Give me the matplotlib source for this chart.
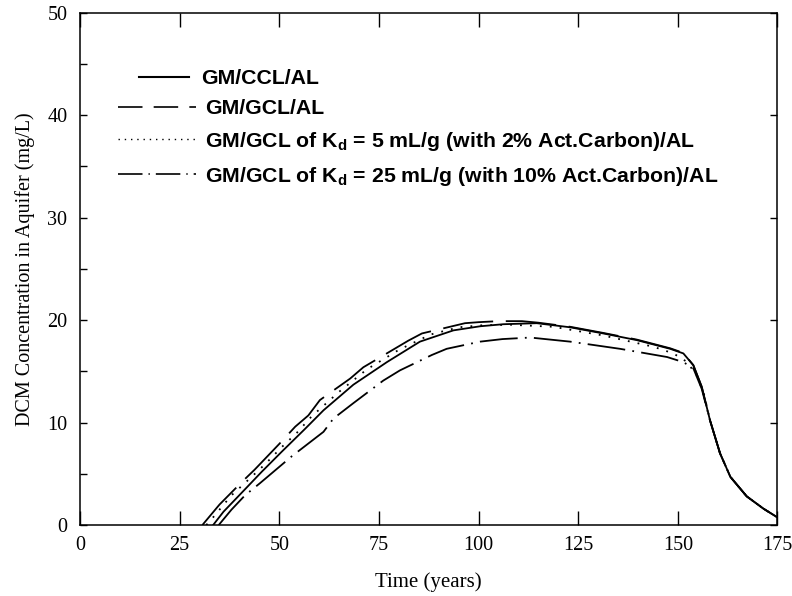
import matplotlib
matplotlib.use("Agg")
import matplotlib.pyplot as plt
from matplotlib.lines import Line2D
from matplotlib.ticker import MultipleLocator

# values
ccl_t = [33.4, 36, 39.7, 45.6, 50.6, 56.5, 61.1, 68.6, 77, 85.3, 93.7, 100.4, 106.2, 114.6,
         123, 131.3, 139.7, 148.1, 151.4, 153.9, 156, 158.1, 160.6, 163.2, 167.3, 171.5, 175]
ccl_c = [0, 1.3, 2.8, 5.2, 7.15, 9.4, 11.2, 13.7, 15.9, 17.9, 19.0, 19.4, 19.6, 19.7,
         19.3, 18.7, 18.05, 17.2, 16.75, 15.6, 13.5, 10.2, 7.0, 4.7, 2.8, 1.6, 0.75]

gcl_t = [30.7, 35, 40.6, 43.8, 50.2, 54, 57.3, 60.2, 67.8, 71.1, 82.4, 85.8, 96.6, 100, 105,
         110.9, 115, 123, 131.3, 139.7, 148.1, 151.4, 153.9, 156, 158.1, 160.6, 163.2, 167.3, 171.5, 175]
gcl_c = [0, 2.0, 4.2, 5.4, 8.0, 9.6, 10.7, 12.2, 14.3, 15.4, 18.0, 18.7, 19.7, 19.8, 19.9,
         19.9, 19.75, 19.35, 18.75, 18.1, 17.25, 16.8, 15.6, 13.5, 10.2, 7.0, 4.7, 2.8, 1.6, 0.75]

kd5_t = [31.7, 33.5, 38, 42.9, 46.6, 50.6, 54.4, 58.1, 65, 72, 80, 88, 95, 101, 108, 118.8,
         131.3, 143.9, 148.9, 152, 154.5, 156.5, 158.1, 160.6, 163.2, 167.3, 171.5, 175]
kd5_c = [0, 0.8, 2.9, 4.65, 6.0, 7.6, 9.0, 10.6, 13.0, 15.2, 17.1, 18.6, 19.3, 19.5, 19.55, 19.35,
         18.5, 17.4, 16.75, 16.0, 14.8, 12.9, 10.2, 7.0, 4.7, 2.8, 1.6, 0.75]

kd25_t = [34.8, 38, 41.4, 45.2, 53.1, 61.1, 63.6, 68.6, 76.1, 80.3, 88.3, 92, 100.4, 106, 113,
          123, 135.5, 147.3, 151.4, 153.9, 156, 158.1, 160.6, 163.2, 167.3, 171.5, 175]
kd25_c = [0, 1.5, 2.9, 4.1, 6.7, 9.1, 10.4, 11.9, 14.1, 15.1, 16.6, 17.2, 17.9, 18.15, 18.3,
          17.9, 17.2, 16.4, 15.9, 15.3, 13.3, 10.2, 7.0, 4.7, 2.8, 1.6, 0.75]

labels = ["GM/CCL/AL",
          "GM/GCL/AL",
          "GM/GCL of K$_\\mathbf{d}$ = 5 mL/g (with 2% Act.Carbon)/AL",
          "GM/GCL of K$_\\mathbf{d}$ = 25 mL/g (with 10% Act.Carbon)/AL"]

plt.rcParams['font.family'] = 'Liberation Serif'
plt.rcParams['mathtext.fontset'] = 'custom'
plt.rcParams['mathtext.rm'] = 'Liberation Sans:bold'
plt.rcParams['mathtext.bf'] = 'Liberation Sans:bold'
plt.rcParams['mathtext.it'] = 'Liberation Sans:bold'

fig = plt.figure(figsize=(7.92, 5.96), dpi=100)
ax = fig.add_axes([0.101, 0.119, 0.8806, 0.8597])

lw = 1.3
ax.plot(ccl_t, ccl_c, color='black', lw=lw, ls='-')
ax.plot(gcl_t, gcl_c, color='black', lw=lw, ls=(0, (28, 7)))
ax.plot(kd5_t, kd5_c, color='black', lw=lw, ls=(0, (1, 4.5)))
ax.plot(kd25_t, kd25_c, color='black', lw=lw, ls=(0, (21, 4, 1, 4)))

ax.set_xlim(0, 175)
ax.set_ylim(0, 50)
ax.xaxis.set_major_locator(MultipleLocator(25))
ax.yaxis.set_major_locator(MultipleLocator(10))
ax.yaxis.set_minor_locator(MultipleLocator(5))
ax.tick_params(axis='x', which='major', direction='in', length=10, width=1, top=True,
               labelsize=14.5, pad=8)
ax.tick_params(axis='y', which='major', direction='in', length=5, width=1, right=True,
               labelsize=14.5, pad=9)
ax.tick_params(axis='y', which='minor', direction='in', length=5, width=1, right=False)
for s in ax.spines.values():
    s.set_linewidth(1.1)

ax.set_xlabel('Time (years)', fontsize=15, labelpad=12)
ax.set_ylabel('DCM Concentration in Aquifer (mg/L)', fontsize=14.5, labelpad=9)

# legend: first entry set apart like the original
font = {'family': 'Liberation Sans', 'weight': 'bold', 'size': 15.3}
h1 = [Line2D([], [], color='black', lw=1.5, ls='-')]
leg1 = ax.legend(h1, labels[:1], loc='upper left', bbox_to_anchor=(0.0853, 0.8895),
                 frameon=False, prop=font, handlelength=2.35, handletextpad=0.57,
                 borderpad=0, borderaxespad=0)
ax.add_artist(leg1)
h2 = [Line2D([], [], color='black', lw=1.2, ls=(0, (14.7, 6.7))),
      Line2D([], [], color='black', lw=1.0, ls=(0, (1, 3.5))),
      Line2D([], [], color='black', lw=1.2, ls=(0, (14.7, 3.6, 0.8, 3.6)))]
ax.legend(h2, labels[1:], loc='upper left', bbox_to_anchor=(0.0545, 0.8315),
          frameon=False, prop=font, handlelength=3.67, handletextpad=0.42,
          labelspacing=0.56, borderpad=0, borderaxespad=0)

fig.savefig('out.png', dpi=100)
